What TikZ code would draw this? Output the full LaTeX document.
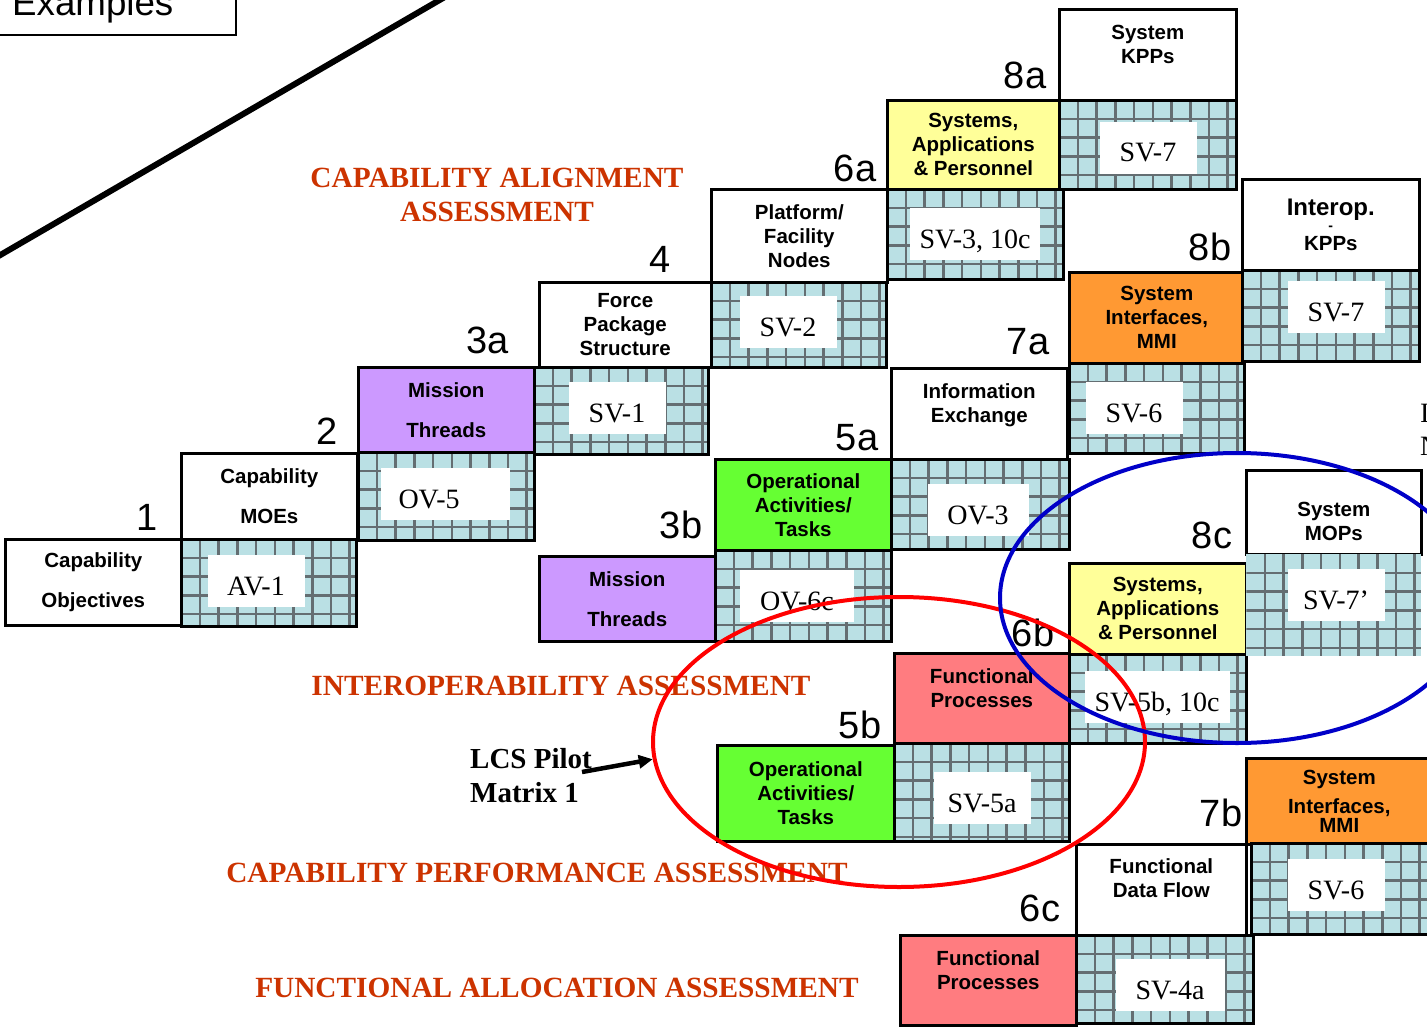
\documentclass[tikz,border=0pt]{standalone}
\usepackage{fontspec}
\setmainfont{Liberation Serif}
\setsansfont{Liberation Sans}
\usetikzlibrary{arrows.meta,shapes.geometric}

\definecolor{cellfill}{RGB}{186,224,228}
\definecolor{cellline}{RGB}{100,110,114}
\definecolor{threadpurple}{RGB}{204,153,255}
\definecolor{sysyellow}{RGB}{255,255,153}
\definecolor{opgreen}{RGB}{102,255,51}
\definecolor{ifaceorange}{RGB}{255,153,51}
\definecolor{funcsalmon}{RGB}{255,124,128}
\definecolor{headred}{RGB}{204,51,0}
\definecolor{ringblue}{RGB}{0,0,200}

\newcommand\hdrfont{\sffamily\bfseries\fontsize{20.5}{24}\selectfont}
\newcommand\viewfont{\rmfamily\fontsize{28}{30}\selectfont}
\newcommand\stepfont{\sffamily\fontsize{38}{40}\selectfont}
\newcommand\headfont{\rmfamily\bfseries\fontsize{29.3}{34}\selectfont}

\begin{document}
\begin{tikzpicture}[
    x=1pt, y=-1pt,
    hdr/.style={draw,line width=2.6pt,fill=white,anchor=north west,minimum width=176,minimum height=88,
      inner sep=0pt,align=center,font=\hdrfont},
    hdrtext/.style={inner sep=0pt,align=center,font=\hdrfont},
    gridbox/.style={draw,line width=2.6pt,fill=cellfill,anchor=north west,minimum width=176,minimum height=88,inner sep=0pt,
      path picture={
        \foreach \k in {1,...,10}{
          \draw[cellline,line width=2.6pt] ([xshift=\k*18.7pt]path picture bounding box.north west)
            -- ([xshift=\k*18.7pt]path picture bounding box.south west);
          \draw[cellline,line width=2.6pt] ([yshift=-\k*18.7pt]path picture bounding box.north west)
            -- ([yshift=-\k*18.7pt]path picture bounding box.north east);
        }}},
    view/.style={fill=white,minimum width=97,minimum height=52,inner xsep=10pt,inner ysep=0pt,
      text height=30pt,text depth=2pt,font=\viewfont},
    stepno/.style={inner sep=0pt,font=\stepfont},
    heading/.style={inner sep=0pt,align=center,text=headred,font=\headfont},
    ring/.style={draw=#1,line width=4pt,ellipse,inner sep=0pt},
  ]
  \useasboundingbox (0,0) rectangle (1427,1027);
  \clip (0,0) rectangle (1427,1027);

  % Examples corner
  \draw[line width=1.4pt] (-5,-5) rectangle (236,35);
  \node[anchor=base west,inner sep=0pt,font=\sffamily\fontsize{36.7}{40}\selectfont] (examples) at (12,16) {Examples};
  \draw[line width=6pt] (-10,261) -- (450,-6);

  % Capability alignment
  \node[hdr,minimum height=86] (capobj) at (4,538) {Capability\\[16pt]Objectives};
  \node[hdr,minimum height=86] (capmoe) at (180,452) {Capability\\[16pt]MOEs};
  \node[gridbox,minimum width=175,minimum height=87] (av1) at (180,538) {};
  \node[hdr,fill=threadpurple,minimum height=85] (threadsA) at (357,366) {Mission\\[16pt]Threads};
  \node[gridbox,minimum height=88] (ov5) at (357,451) {};
  \node[hdr,minimum width=172,minimum height=85] (force) at (538,281) {Force\\Package\\Structure};
  \node[gridbox,minimum width=174,minimum height=87] (sv1) at (533,366) {};
  \node[hdr,minimum height=93] (platform) at (710,188) {Platform/\\Facility\\Nodes};
  \node[gridbox,minimum width=175,minimum height=85] (sv2) at (710,281) {};
  \node[hdr,fill=sysyellow,minimum width=172,minimum height=89] (sysappA) at (886,99) {Systems,\\Applications\\\& Personnel};
  \node[gridbox,minimum height=90] (sv3) at (886,188) {};
  \node[hdr,minimum width=177,minimum height=91,
    label={[hdrtext,yshift=10.5pt]center:System\\KPPs}] (syskpp) at (1058,8) {};
  \node[gridbox,minimum width=177,minimum height=89] (sv7A) at (1058,99) {};

  % Interoperability
  \node[hdr,fill=threadpurple,minimum height=85] (threadsB) at (538,555) {Mission\\[16pt]Threads};
  \node[hdr,fill=opgreen,minimum height=91] (opactA) at (714,458) {Operational\\Activities/\\Tasks};
  \node[gridbox,minimum height=91] (ov6c) at (714,549) {};
  \node[hdr,minimum height=91,
    label={[hdrtext,yshift=9pt]center:Information\\Exchange}] (infoex) at (890,367) {};
  \node[gridbox,minimum width=178,minimum height=90] (ov3) at (890,458) {};
  \node[hdr,fill=ifaceorange,minimum width=175,minimum height=91] (ifaceA) at (1068,271) {System\\Interfaces,\\MMI};
  \node[gridbox,minimum width=175,minimum height=90] (sv6A) at (1068,362) {};
  \node[hdr,minimum width=177,minimum height=91] (interop) at (1241,178)
    {{\fontsize{24}{26}\selectfont Interop.}\\[-9pt]{\fontsize{14}{10}\selectfont -}\\[-4pt]KPPs};
  \node[gridbox,minimum width=177,minimum height=91] (sv7B) at (1241,269) {};

  % Capability performance
  \node[hdr,fill=opgreen,minimum width=177,minimum height=96] (opactB) at (716,744) {Operational\\Activities/\\Tasks};
  \node[hdr,fill=funcsalmon,minimum width=175,minimum height=90,
    label={[hdrtext,yshift=10pt]center:Functional\\Processes}] (funcA) at (893,652) {};
  \node[gridbox,minimum width=175,minimum height=98] (sv5a) at (893,742) {};
  \node[hdr,fill=sysyellow,minimum width=177,minimum height=91] (sysappB) at (1068,562) {Systems,\\Applications\\\& Personnel};
  \node[gridbox,minimum width=177,minimum height=89] (sv5b) at (1068,653) {};
  \node[hdr,minimum width=175,minimum height=84,
    label={[hdrtext,yshift=-9pt]center:System\\MOPs}] (sysmop) at (1245,469) {};
  \node[gridbox,draw=none,minimum width=175,minimum height=102] (sv7C) at (1245,553) {};

  % Functional allocation
  \node[hdr,fill=funcsalmon,minimum width=176,minimum height=90,
    label={[hdrtext,yshift=10pt]center:Functional\\Processes}] (funcB) at (899,934) {};
  \node[hdr,minimum width=170,minimum height=91,
    label={[hdrtext,yshift=12pt]center:Functional\\Data Flow}] (dataflow) at (1075,843) {};
  \node[gridbox,minimum width=177,minimum height=88] (sv4a) at (1075,934) {};
  \node[hdr,fill=ifaceorange,minimum width=186,minimum height=86] (ifaceB) at (1245,757) {System\\[5pt]Interfaces,\\[-5pt]MMI};
  \node[gridbox,minimum width=185,minimum height=91] (sv6B) at (1250,842) {};

  % view labels
  \node[view] (av1lab) at (256,581) {AV-1};
  \node[view,text width=93pt,inner xsep=18pt,align=left] (ov5lab) at (445,494) {OV-5};
  \node[view] (sv1lab) at (617,408) {SV-1};
  \node[view] (sv2lab) at (788,322) {SV-2};
  \node[view] (sv3lab) at (975,234) {SV-3, 10c};
  \node[view] (sv7Alab) at (1148,148) {SV-7};
  \node[view,minimum width=114] (ov6clab) at (797,596) {OV-6c};
  \node[view,minimum width=101] (ov3lab) at (978,510) {OV-3};
  \node[view] (sv6Alab) at (1134,408) {SV-6};
  \node[view] (sv7Blab) at (1336,307) {SV-7};
  \node[view] (sv5alab) at (982,798) {SV-5a};
  \node[view] (sv5blab) at (1157,697) {SV-5b, 10c};
  \node[view] (sv7Clab) at (1336,595) {SV-7’};
  \node[view,minimum width=109] (sv4alab) at (1170,985) {SV-4a};
  \node[view] (sv6Blab) at (1336,885) {SV-6};

  % step numbers
  \node[stepno] (n1) at (147,517) {1};
  \node[stepno] (n2) at (327,431) {2};
  \node[stepno] (n3a) at (488,340) {3a};
  \node[stepno] (n4) at (660,259) {4};
  \node[stepno] (n6a) at (855,168) {6a};
  \node[stepno] (n8a) at (1025,75) {8a};
  \node[stepno] (n3b) at (681,525) {3b};
  \node[stepno] (n5a) at (857,438) {5a};
  \node[stepno] (n7a) at (1028,342) {7a};
  \node[stepno] (n8b) at (1210,247) {8b};
  \node[stepno] (n5b) at (860,725) {5b};
  \node[stepno] (n6b) at (1033,633) {6b};
  \node[stepno] (n8c) at (1212,535) {8c};
  \node[stepno] (n6c) at (1040,908) {6c};
  \node[stepno] (n7b) at (1221,813) {7b};

  % assessment headings
  \node[heading] (alignhead) at (497,195) {CAPABILITY ALIGNMENT\\ASSESSMENT};
  \node[heading] (interophead) at (561,686) {INTEROPERABILITY ASSESSMENT};
  \node[heading] (perfhead) at (537,873) {CAPABILITY PERFORMANCE ASSESSMENT};
  \node[heading] (allochead) at (557,988) {FUNCTIONAL ALLOCATION ASSESSMENT};

  % cut-off text at right edge
  \node[anchor=base west,inner sep=0pt,font=\viewfont] (edgeI) at (1420,422) {I};
  \node[anchor=base west,inner sep=0pt,font=\viewfont] (edgeN) at (1420,455) {N};

  % pilot matrix rings
  \node[ring=red,minimum width=492,minimum height=290] (redring) at (899,742) {};
  \node[ring=ringblue,minimum width=474,minimum height=290] (bluering) at (1237,598) {};
  \node[anchor=north west,inner sep=0pt,align=left,font=\rmfamily\bfseries\fontsize{29}{34}\selectfont] (lcs) at (470,748)
    {LCS Pilot\\Matrix 1};
  \coordinate (lcsfoot) at (582,772);
  \draw[line width=4.5pt,-{Triangle[length=14pt,width=13pt]}] (lcsfoot) -- (redring.184);
\end{tikzpicture}
\end{document}
